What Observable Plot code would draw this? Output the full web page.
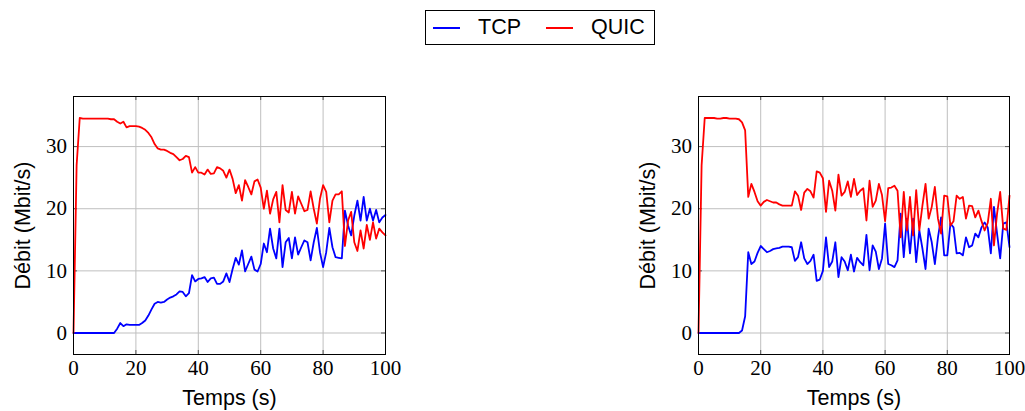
<!DOCTYPE html>
<html>
<head>
<meta charset="utf-8">
<script src="https://cdn.jsdelivr.net/npm/d3@7"></script>
<script src="https://cdn.jsdelivr.net/npm/@observablehq/plot@0.6"></script>
<style>
  body { margin: 0; background: #fff; }
  #fig { position: relative; width: 1025px; height: 411px; overflow: hidden;
         font-family: "Liberation Sans", Arial, sans-serif; color: #000; }
  #legend { position: absolute; left: 425px; top: 10px; height: 35px; box-sizing: border-box;
            border: 1px solid #000; display: flex; align-items: center;
            padding: 0 9px 0 7px; font-size: 21.5px; background: #fff; }
  .item { display: flex; align-items: center; }
  .item + .item { margin-left: 25px; }
  .swatch { width: 27px; height: 2px; margin-right: 18px; }
  .panel { position: absolute; top: 60px; }
  .panel svg { overflow: visible; }
</style>
</head>
<body>
<div id="fig">
  <div id="legend"></div>
</div>
<script>
// Sampling instants (s)
const temps = [0,1,2,3,4,5,6,7,8,9,10,11,12,13,14,15,16,17,18,19,20,21,22,23,24,25,26,27,28,29,30,
  31,32,33,34,35,36,37,38,39,40,41,42,43,44,45,46,47,48,49,50,51,52,53,54,55,56,57,58,59,60,
  61,62,63,64,65,66,67,68,69,70,71,72,73,74,75,76,77,78,79,80,81,82,83,84,85,86,87,88,89,90,
  91,92,93,94,95,96,97,98,99,100];

// Throughput (Mbit/s), first scenario
const tcpA = [0,0,0,0,0,0,0,0,0,0,0,0,0,0,0.7,1.6,1.1,1.4,1.3,1.3,1.3,1.3,1.6,2.0,2.8,3.8,4.7,5.0,4.9,5.0,5.4,
  5.7,5.9,6.2,6.7,6.6,5.9,6.4,9.3,8.3,8.7,8.8,9.0,8.2,8.8,8.9,7.9,7.9,8.3,9.6,8.2,10.3,12.1,11.0,13.3,9.9,11.1,12.3,10.2,9.9,11.1,
  14.4,13.0,16.8,13.6,12.0,16.8,10.6,14.6,15.3,12.0,15.4,12.6,13.8,14.9,14.6,11.7,14.6,16.9,13.0,10.6,13.0,16.9,13.8,12.2,12.1,12.0,19.7,17.3,15.7,18.9,
  21.3,18.1,21.9,18.1,20.0,18.1,19.8,17.8,18.6,19.0];
const quicA = [0,27,34.6,34.5,34.5,34.5,34.5,34.5,34.5,34.5,34.5,34.5,34.4,34.4,34.0,33.7,34.0,33.1,33.3,33.3,33.3,33.2,33.0,32.7,32.2,31.5,30.4,29.7,29.5,29.5,29.3,
  29.0,28.8,28.3,27.8,28.0,28.5,28.3,25.8,26.7,25.8,25.8,25.5,26.3,25.6,25.7,26.7,26.5,26.1,25.0,26.3,24.8,22.5,23.8,21.3,24.6,23.5,22.3,24.4,24.7,23.4,
  20.0,22.9,19.2,21.5,22.7,17.8,23.8,19.8,19.4,22.7,19.2,22.0,20.8,19.6,19.8,22.8,20.0,17.6,21.6,23.8,22.7,17.8,21.3,22.3,22.3,22.8,14.0,18.1,19.5,14.6,
  13.2,16.5,13.6,17.4,15.0,17.8,15.2,16.8,16.2,15.7];

// Throughput (Mbit/s), second scenario
const tcpB = [0,0,0,0,0,0,0,0,0,0,0,0,0,0,0.4,2.7,13.0,11.1,11.5,12.9,14.0,13.5,13.0,13.2,13.5,13.6,13.7,13.9,13.9,13.9,13.8,
  11.6,12.2,14.6,12.0,11.1,11.6,12.6,8.4,8.6,10.0,15.4,10.6,11.5,14.6,9.0,12.2,11.5,10.1,12.6,9.9,12.1,11.4,10.9,15.8,10.1,14.1,13.1,10.3,12.0,17.6,
  11.1,10.9,10.6,11.7,19.2,12.2,18.4,12.8,18.4,11.4,16.5,13.6,10.3,16.8,14.6,11.1,15.4,18.6,12.5,12.5,17.6,17.0,12.8,12.9,12.5,15.4,13.8,14.1,16.0,15.4,
  17.0,17.8,17.0,12.8,20.3,16.0,12.0,17.6,17.8,13.8];
const quicB = [0,27,34.6,34.6,34.6,34.6,34.5,34.5,34.6,34.6,34.5,34.5,34.5,34.4,33.9,32.6,21.9,24.0,22.7,21.2,20.5,21.1,21.4,21.2,21.0,21.0,20.7,20.5,20.5,20.5,20.5,
  22.8,22.1,19.8,22.6,23.2,22.8,21.8,26.0,25.8,24.9,19.5,24.5,22.9,19.7,25.5,22.1,22.7,24.4,21.9,24.8,22.2,22.9,23.3,18.1,24.5,20.3,21.3,24.0,22.2,18.0,
  23.3,23.4,23.7,22.9,15.4,22.7,16.5,21.9,15.7,23.0,16.5,20.5,24.0,18.4,20.3,23.5,18.4,16.0,22.1,22.0,17.3,18.0,22.1,21.6,21.9,18.4,20.5,20.4,18.6,19.7,
  18.0,16.5,17.7,21.6,14.1,19.2,22.7,16.8,16.6,22.1];

const seriesNames = ["TCP", "QUIC"];
const seriesColors = ["#0000ff", "#ff0000"];
const xTicks = [0, 20, 40, 60, 80, 100];
const yTicks = [0, 10, 20, 30];
const xLabel = "Temps (s)";
const yLabel = "Débit (Mbit/s)";

const fig = document.getElementById("fig");

// Legend above both panels
const legend = d3.select("#legend");
seriesNames.forEach((name, i) => {
  const item = legend.append("div").attr("class", "item");
  item.append("div").attr("class", "swatch").style("background-color", seriesColors[i]);
  item.append("span").text(name);
});

function panel(tcp, quic, left, width, marginLeft, marginRight) {
  const height = 351, marginTop = 36, marginBottom = 57;
  const pw = width - marginLeft - marginRight;
  const ph = height - marginTop - marginBottom;
  const rows = [
    ...temps.map((t, i) => ({t, v: tcp[i], s: "TCP"})),
    ...temps.map((t, i) => ({t, v: quic[i], s: "QUIC"}))
  ];
  // y limits enlarged by 10% of the data range on both sides
  const lo = d3.min(rows, d => d.v), hi = d3.max(rows, d => d.v);
  const pad = 0.1 * (hi - lo);
  const tickStroke = "#555";
  const chart = Plot.plot({
    width, height, marginTop, marginBottom, marginLeft, marginRight,
    style: {fontFamily: "'Liberation Serif', 'Times New Roman', serif", fontSize: "21px", background: "transparent"},
    x: {domain: [0, 100], label: null},
    y: {domain: [lo - pad, hi + pad], label: null},
    color: {domain: seriesNames, range: seriesColors},
    marks: [
      Plot.gridX(xTicks, {x: d => d, stroke: "#bfbfbf", strokeOpacity: 1, strokeWidth: 1}),
      Plot.gridY(yTicks, {y: d => d, stroke: "#bfbfbf", strokeOpacity: 1, strokeWidth: 1}),
      // short inward ticks on all four sides
      Plot.tickX(xTicks, {x: d => d, insetTop: ph - 4, stroke: tickStroke}),
      Plot.tickX(xTicks, {x: d => d, insetBottom: ph - 4, stroke: tickStroke}),
      Plot.tickY(yTicks, {y: d => d, insetRight: pw - 4, stroke: tickStroke}),
      Plot.tickY(yTicks, {y: d => d, insetLeft: pw - 4, stroke: tickStroke}),
      Plot.axisX(xTicks, {tickSize: 0, tickPadding: 6, label: null, fill: "#000"}),
      Plot.axisY(yTicks, {tickSize: 0, tickPadding: 6.5, label: null, fill: "#000"}),
      Plot.line(rows, {x: "t", y: "v", stroke: "s", z: "s", strokeWidth: 1.8, strokeLinejoin: "round"}),
      Plot.frame({stroke: "#000", strokeWidth: 1}),
      Plot.text([xLabel], {text: d => d, frameAnchor: "bottom", dy: 50, lineAnchor: "bottom", textAnchor: "middle",
        fontFamily: "'Liberation Sans', Arial, sans-serif", fontSize: 21.5, fill: "#000"}),
      Plot.text([yLabel], {text: d => d, frameAnchor: "left", dx: -44, rotate: -90, lineAnchor: "bottom", textAnchor: "middle",
        fontFamily: "'Liberation Sans', Arial, sans-serif", fontSize: 21.5, fill: "#000"})
    ]
  });
  const wrap = document.createElement("div");
  wrap.className = "panel";
  wrap.style.left = left + "px";
  wrap.appendChild(chart);
  fig.appendChild(wrap);
}

panel(tcpA, quicA, 0, 410, 73, 25);
panel(tcpB, quicB, 620, 405, 78, 16);
</script>
</body>
</html>
